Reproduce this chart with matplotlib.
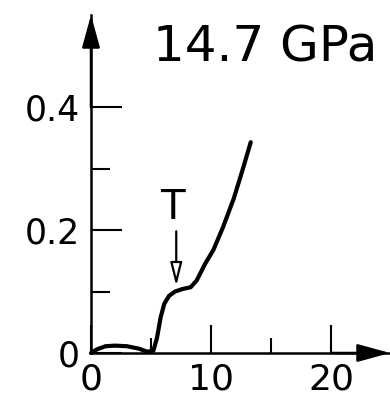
import matplotlib.pyplot as plt
from matplotlib.ticker import FixedLocator

plt.rcParams['font.family'] = ['DejaVu Sans']

x = [0, 0.5, 1.2, 2.0, 3.0, 4.0, 4.7, 5.2, 5.5, 5.8, 6.1, 6.5, 7.0, 7.6,
     8.3, 8.8, 9.5, 10.2, 11.0, 11.9, 12.7, 13.3]
y = [0, 0.006, 0.011, 0.012, 0.011, 0.007, 0.002, 0.004, 0.025, 0.058,
     0.080, 0.093, 0.100, 0.104, 0.107, 0.118, 0.145, 0.168, 0.205, 0.252,
     0.303, 0.343]

xticks_major = [0, 10, 20]
xticks_minor = [5, 15]
yticks_major = [0, 0.2, 0.4]
yticks_minor = [0.1, 0.3]
ytick_labels = ['0', '0.2', '0.4']

# transition marker
t_x = 7.1
t_top = 0.198
t_tip = 0.109

fig = plt.figure(figsize=(3.9, 4.0), dpi=100)
ax = fig.add_axes([91 / 390, 47 / 400, 299 / 390, 338 / 400])
ax.set_xlim(0, 24.9)
ax.set_ylim(0, 0.55)

ax.plot(x, y, color='black', lw=3.0, solid_capstyle='round',
        solid_joinstyle='round', clip_on=False)

for s in ['top', 'right']:
    ax.spines[s].set_visible(False)
for s in ['left', 'bottom']:
    ax.spines[s].set_linewidth(1.8)

# axis arrowheads
arr = dict(arrowstyle='-|>,head_length=2.0,head_width=0.55', lw=1.8,
           color='black', shrinkA=0, shrinkB=0)
ax.annotate('', xy=(0, 0.55), xytext=(0, 0.4), arrowprops=arr,
            annotation_clip=False)
ax.annotate('', xy=(24.9, 0), xytext=(20, 0), arrowprops=arr,
            annotation_clip=False)

ax.xaxis.set_major_locator(FixedLocator(xticks_major))
ax.xaxis.set_minor_locator(FixedLocator(xticks_minor))
ax.yaxis.set_major_locator(FixedLocator(yticks_major))
ax.yaxis.set_minor_locator(FixedLocator(yticks_minor))
ax.set_xticklabels([str(v) for v in xticks_major])
ax.set_yticklabels(ytick_labels)

ax.tick_params(axis='x', which='major', direction='in', length=20, width=1.5,
               labelsize=26, pad=7)
ax.tick_params(axis='x', which='minor', direction='in', length=11, width=1.5)
ax.tick_params(axis='y', which='major', direction='in', length=22, width=1.5,
               labelsize=25, pad=8)
ax.tick_params(axis='y', which='minor', direction='in', length=14, width=1.5)

# T arrow
ax.annotate('', xy=(t_x, t_tip), xytext=(t_x, t_top),
            arrowprops=dict(arrowstyle='-|>,head_length=1.4,head_width=0.35',
                            lw=1.6, ec='black', fc='white',
                            shrinkA=0, shrinkB=0))
ax.text(6.75, 0.236, 'T', fontsize=29, ha='center', va='center')

fig.text(153 / 390, 1 - 62 / 400, '14.7 GPa', fontsize=36,
         ha='left', va='baseline')

fig.savefig('out.png', dpi=100)
